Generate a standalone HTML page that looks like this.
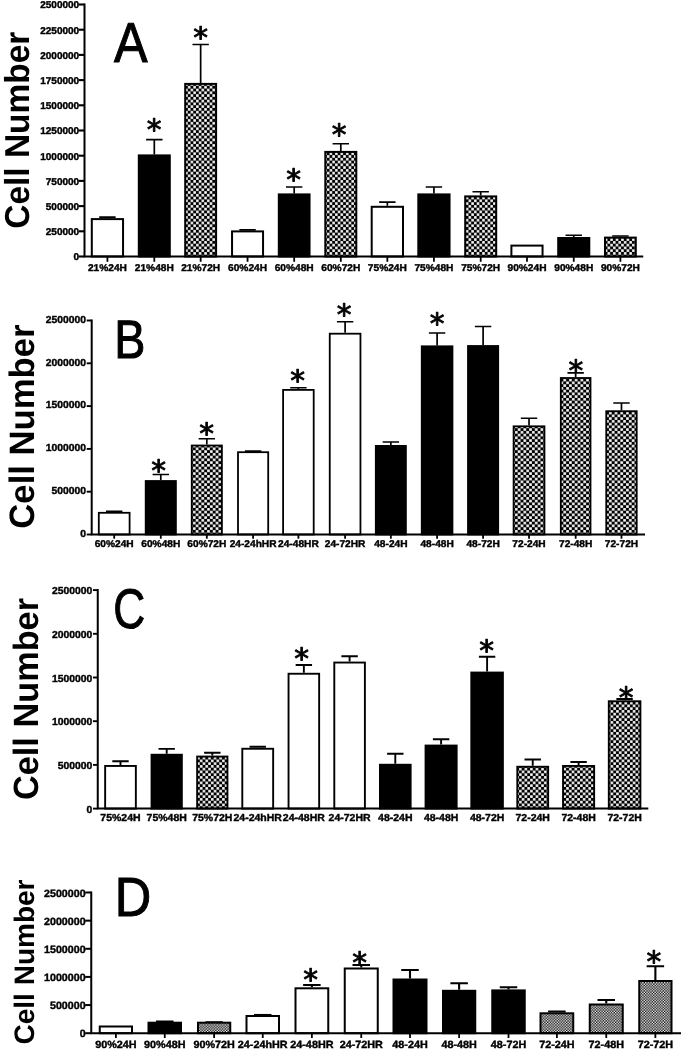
<!DOCTYPE html>
<html lang="en"><head><meta charset="utf-8"><title>Cell Number charts</title>
<style>
html,body{margin:0;padding:0;background:#fff;}
body{width:681px;height:1050px;overflow:hidden;}
svg{display:block;filter:blur(0.45px);}
text{font-family:"Liberation Sans",Arial,Helvetica,sans-serif;fill:#000;text-rendering:geometricPrecision;}
.xl{font-weight:bold;text-anchor:middle;stroke:#000;stroke-width:0.4px;}
.yl{font-weight:bold;font-size:9.9px;text-anchor:end;stroke:#000;stroke-width:0.4px;}
.ttl{font-weight:bold;text-anchor:middle;}
.let{font-weight:normal;stroke:#000;stroke-width:1px;}
.ast{font-family:"DejaVu Sans","Liberation Sans",sans-serif;font-size:29.5px;text-anchor:middle;stroke:#000;stroke-width:0.9px;stroke-linejoin:round;}
</style></head><body>
<svg width="681" height="1050" viewBox="0 0 681 1050">
<defs>
<pattern id="chkA" width="5.45" height="5.54" patternUnits="userSpaceOnUse" x="2.52" y="-2.8"><rect width="5.45" height="5.54" fill="#000"/><rect x="0.11" y="0.11" width="2.51" height="2.55" fill="#fff"/><rect x="2.83" y="2.88" width="2.51" height="2.55" fill="#fff"/></pattern>
<pattern id="chkB" width="5.7" height="5.5" patternUnits="userSpaceOnUse" x="-1" y="-0.8"><rect width="5.7" height="5.5" fill="#000"/><rect x="0.11" y="0.11" width="2.62" height="2.53" fill="#fff"/><rect x="2.96" y="2.86" width="2.62" height="2.53" fill="#fff"/></pattern>
<pattern id="chkC" width="5.55" height="5.5" patternUnits="userSpaceOnUse" x="0" y="0.5"><rect width="5.55" height="5.5" fill="#000"/><rect x="0.11" y="0.11" width="2.55" height="2.53" fill="#fff"/><rect x="2.89" y="2.86" width="2.55" height="2.53" fill="#fff"/></pattern>
<pattern id="chkD" width="2.72" height="2.72" patternUnits="userSpaceOnUse" x="0.3" y="0.2"><rect width="2.72" height="2.72" fill="#000"/><rect x="0" y="0" width="1.36" height="1.36" fill="#fff"/><rect x="1.36" y="1.36" width="1.36" height="1.36" fill="#fff"/></pattern>
</defs>
<rect width="681" height="1050" fill="#fff"/>
<g>
<path d="M107.42 218.1V217.2M99.22 217.2H115.62" stroke="#000" stroke-width="1.7" fill="none"/>
<rect x="91.8" y="219.1" width="31.25" height="37.4" fill="#fff" stroke="#000" stroke-width="2"/>
<text class="xl" style="font-size:9.9px" transform="translate(107.42 271.2) scale(1.03 1)">21%24H</text>
<path d="M107.42 256.5v5.3" stroke="#000" stroke-width="1.8"/>
<path d="M154.3 154.4V139.6M146.1 139.6H162.5" stroke="#000" stroke-width="1.7" fill="none"/>
<rect x="138.8" y="155.4" width="31" height="101.1" fill="#000" stroke="#000" stroke-width="2"/>
<text class="ast" x="154" y="139.84">*</text>
<text class="xl" style="font-size:9.9px" transform="translate(154.3 271.2) scale(1.03 1)">21%48H</text>
<path d="M154.3 256.5v5.3" stroke="#000" stroke-width="1.8"/>
<path d="M200.65 82.9V44.5M192.45 44.5H208.85" stroke="#000" stroke-width="1.7" fill="none"/>
<rect x="185.2" y="83.9" width="30.9" height="172.6" fill="url(#chkA)" stroke="#000" stroke-width="2"/>
<text class="ast" x="200.7" y="47.74">*</text>
<text class="xl" style="font-size:9.9px" transform="translate(200.65 271.2) scale(1.03 1)">21%72H</text>
<path d="M200.65 256.5v5.3" stroke="#000" stroke-width="1.8"/>
<path d="M247.55 230.4V229.8M239.35 229.8H255.75" stroke="#000" stroke-width="1.7" fill="none"/>
<rect x="232.05" y="231.4" width="31" height="25.1" fill="#fff" stroke="#000" stroke-width="2"/>
<text class="xl" style="font-size:9.9px" transform="translate(247.55 271.2) scale(1.03 1)">60%24H</text>
<path d="M247.55 256.5v5.3" stroke="#000" stroke-width="1.8"/>
<path d="M294.18 193.4V187M285.98 187H302.38" stroke="#000" stroke-width="1.7" fill="none"/>
<rect x="278.8" y="194.4" width="30.75" height="62.1" fill="#000" stroke="#000" stroke-width="2"/>
<text class="ast" x="293.5" y="190.44">*</text>
<text class="xl" style="font-size:9.9px" transform="translate(294.18 271.2) scale(1.03 1)">60%48H</text>
<path d="M294.18 256.5v5.3" stroke="#000" stroke-width="1.8"/>
<path d="M340.8 150.9V143.75M332.6 143.75H349" stroke="#000" stroke-width="1.7" fill="none"/>
<rect x="325.3" y="151.9" width="31" height="104.6" fill="url(#chkA)" stroke="#000" stroke-width="2"/>
<text class="ast" x="339.2" y="145.24">*</text>
<text class="xl" style="font-size:9.9px" transform="translate(340.8 271.2) scale(1.03 1)">60%72H</text>
<path d="M340.8 256.5v5.3" stroke="#000" stroke-width="1.8"/>
<path d="M387.35 205.8V202.2M379.15 202.2H395.55" stroke="#000" stroke-width="1.7" fill="none"/>
<rect x="371.7" y="206.8" width="31.3" height="49.7" fill="#fff" stroke="#000" stroke-width="2"/>
<text class="xl" style="font-size:9.9px" transform="translate(387.35 271.2) scale(1.03 1)">75%24H</text>
<path d="M387.35 256.5v5.3" stroke="#000" stroke-width="1.8"/>
<path d="M433.93 193.4V187M425.73 187H442.12" stroke="#000" stroke-width="1.7" fill="none"/>
<rect x="418.3" y="194.4" width="31.25" height="62.1" fill="#000" stroke="#000" stroke-width="2"/>
<text class="xl" style="font-size:9.9px" transform="translate(433.93 271.2) scale(1.03 1)">75%48H</text>
<path d="M433.93 256.5v5.3" stroke="#000" stroke-width="1.8"/>
<path d="M480.7 195.4V191.75M472.5 191.75H488.9" stroke="#000" stroke-width="1.7" fill="none"/>
<rect x="465.2" y="196.4" width="31" height="60.1" fill="url(#chkA)" stroke="#000" stroke-width="2"/>
<text class="xl" style="font-size:9.9px" transform="translate(480.7 271.2) scale(1.03 1)">75%72H</text>
<path d="M480.7 256.5v5.3" stroke="#000" stroke-width="1.8"/>
<rect x="511.4" y="245.6" width="31.15" height="10.9" fill="#fff" stroke="#000" stroke-width="2"/>
<text class="xl" style="font-size:9.9px" transform="translate(526.98 271.2) scale(1.03 1)">90%24H</text>
<path d="M526.98 256.5v5.3" stroke="#000" stroke-width="1.8"/>
<path d="M573.75 237V235.25M565.55 235.25H581.95" stroke="#000" stroke-width="1.7" fill="none"/>
<rect x="558.2" y="238" width="31.1" height="18.5" fill="#000" stroke="#000" stroke-width="2"/>
<text class="xl" style="font-size:9.9px" transform="translate(573.75 271.2) scale(1.03 1)">90%48H</text>
<path d="M573.75 256.5v5.3" stroke="#000" stroke-width="1.8"/>
<path d="M620.4 236.6V236M612.2 236H628.6" stroke="#000" stroke-width="1.7" fill="none"/>
<rect x="605" y="237.6" width="30.8" height="18.9" fill="url(#chkA)" stroke="#000" stroke-width="2"/>
<text class="xl" style="font-size:9.9px" transform="translate(620.4 271.2) scale(1.03 1)">90%72H</text>
<path d="M620.4 256.5v5.3" stroke="#000" stroke-width="1.8"/>
<path d="M84.5 3.5V256.5H643.25" stroke="#000" stroke-width="2" fill="none" stroke-linejoin="miter"/>
<path d="M78.6 256.5H84.5" stroke="#000" stroke-width="2.1"/>
<text class="yl" style="font-size:9.9px" transform="translate(79.2 260.4) scale(1.015 1)">0</text>
<path d="M78.6 231.3H84.5" stroke="#000" stroke-width="2.1"/>
<text class="yl" style="font-size:9.9px" transform="translate(79.2 235.2) scale(1.015 1)">250000</text>
<path d="M78.6 206.1H84.5" stroke="#000" stroke-width="2.1"/>
<text class="yl" style="font-size:9.9px" transform="translate(79.2 210) scale(1.015 1)">500000</text>
<path d="M78.6 180.9H84.5" stroke="#000" stroke-width="2.1"/>
<text class="yl" style="font-size:9.9px" transform="translate(79.2 184.8) scale(1.015 1)">750000</text>
<path d="M78.6 155.7H84.5" stroke="#000" stroke-width="2.1"/>
<text class="yl" style="font-size:9.9px" transform="translate(79.2 159.6) scale(1.015 1)">1000000</text>
<path d="M78.6 130.5H84.5" stroke="#000" stroke-width="2.1"/>
<text class="yl" style="font-size:9.9px" transform="translate(79.2 134.4) scale(1.015 1)">1250000</text>
<path d="M78.6 105.3H84.5" stroke="#000" stroke-width="2.1"/>
<text class="yl" style="font-size:9.9px" transform="translate(79.2 109.2) scale(1.015 1)">1500000</text>
<path d="M78.6 80.1H84.5" stroke="#000" stroke-width="2.1"/>
<text class="yl" style="font-size:9.9px" transform="translate(79.2 84) scale(1.015 1)">1750000</text>
<path d="M78.6 54.9H84.5" stroke="#000" stroke-width="2.1"/>
<text class="yl" style="font-size:9.9px" transform="translate(79.2 58.8) scale(1.015 1)">2000000</text>
<path d="M78.6 29.7H84.5" stroke="#000" stroke-width="2.1"/>
<text class="yl" style="font-size:9.9px" transform="translate(79.2 33.6) scale(1.015 1)">2250000</text>
<path d="M78.6 4.5H84.5" stroke="#000" stroke-width="2.1"/>
<text class="yl" style="font-size:9.9px" transform="translate(79.2 8.4) scale(1.015 1)">2500000</text>
<text class="let" style="font-size:56.3px" transform="translate(113.9 61.9) scale(0.895 1)">A</text>
<text class="ttl" style="font-size:34.6px" transform="translate(28.8 130.2) rotate(-90) scale(0.968 1)">Cell Number</text>
</g>
<g>
<path d="M114.2 511.9V511.25M106 511.25H122.4" stroke="#000" stroke-width="1.7" fill="none"/>
<rect x="98.8" y="512.8" width="30.8" height="21.7" fill="#fff" stroke="#000" stroke-width="1.8"/>
<text class="xl" style="font-size:9.9px" transform="translate(114.2 546.9) scale(1.03 1)">60%24H</text>
<path d="M114.2 534.5v4.2" stroke="#000" stroke-width="1.8"/>
<path d="M160.8 480.1V474.5M152.6 474.5H169" stroke="#000" stroke-width="1.7" fill="none"/>
<rect x="145.7" y="481" width="30.2" height="53.5" fill="#000" stroke="#000" stroke-width="1.8"/>
<text class="ast" x="158.5" y="481.44">*</text>
<text class="xl" style="font-size:9.9px" transform="translate(160.8 546.9) scale(1.03 1)">60%48H</text>
<path d="M160.8 534.5v4.2" stroke="#000" stroke-width="1.8"/>
<path d="M206.82 444.6V438.75M198.62 438.75H215.02" stroke="#000" stroke-width="1.7" fill="none"/>
<rect x="191.75" y="445.5" width="30.15" height="89" fill="url(#chkB)" stroke="#000" stroke-width="1.8"/>
<text class="ast" x="206.5" y="444.24">*</text>
<text class="xl" style="font-size:9.9px" transform="translate(206.82 546.9) scale(1.03 1)">60%72H</text>
<path d="M206.82 534.5v4.2" stroke="#000" stroke-width="1.8"/>
<path d="M253.1 451.3V451.2M244.9 451.2H261.3" stroke="#000" stroke-width="1.7" fill="none"/>
<rect x="238" y="452.2" width="30.2" height="82.3" fill="#fff" stroke="#000" stroke-width="1.8"/>
<text class="xl" style="font-size:9.9px" transform="translate(253.1 546.9) scale(1.03 1)">24-24hHR</text>
<path d="M253.1 534.5v4.2" stroke="#000" stroke-width="1.8"/>
<path d="M298.4 389V387.75M290.2 387.75H306.6" stroke="#000" stroke-width="1.7" fill="none"/>
<rect x="283.1" y="389.9" width="30.6" height="144.6" fill="#fff" stroke="#000" stroke-width="1.8"/>
<text class="ast" x="297.6" y="391.34">*</text>
<text class="xl" style="font-size:9.9px" transform="translate(298.4 546.9) scale(1.03 1)">24-48HR</text>
<path d="M298.4 534.5v4.2" stroke="#000" stroke-width="1.8"/>
<path d="M345.1 332.8V321.75M336.9 321.75H353.3" stroke="#000" stroke-width="1.7" fill="none"/>
<rect x="329.75" y="333.7" width="30.7" height="200.8" fill="#fff" stroke="#000" stroke-width="1.8"/>
<text class="ast" x="344.1" y="325.44">*</text>
<text class="xl" style="font-size:9.9px" transform="translate(345.1 546.9) scale(1.03 1)">24-72HR</text>
<path d="M345.1 534.5v4.2" stroke="#000" stroke-width="1.8"/>
<path d="M390.85 445V442M382.65 442H399.05" stroke="#000" stroke-width="1.7" fill="none"/>
<rect x="375.8" y="445.9" width="30.1" height="88.6" fill="#000" stroke="#000" stroke-width="1.8"/>
<text class="xl" style="font-size:9.9px" transform="translate(390.85 546.9) scale(1.03 1)">48-24H</text>
<path d="M390.85 534.5v4.2" stroke="#000" stroke-width="1.8"/>
<path d="M437.1 345.4V333M428.9 333H445.3" stroke="#000" stroke-width="1.7" fill="none"/>
<rect x="421.75" y="346.3" width="30.7" height="188.2" fill="#000" stroke="#000" stroke-width="1.8"/>
<text class="ast" x="437" y="333.94">*</text>
<text class="xl" style="font-size:9.9px" transform="translate(437.1 546.9) scale(1.03 1)">48-48H</text>
<path d="M437.1 534.5v4.2" stroke="#000" stroke-width="1.8"/>
<path d="M483.1 345.1V326.5M474.9 326.5H491.3" stroke="#000" stroke-width="1.7" fill="none"/>
<rect x="468" y="346" width="30.2" height="188.5" fill="#000" stroke="#000" stroke-width="1.8"/>
<text class="xl" style="font-size:9.9px" transform="translate(483.1 546.9) scale(1.03 1)">48-72H</text>
<path d="M483.1 534.5v4.2" stroke="#000" stroke-width="1.8"/>
<path d="M529.03 425.4V418.25M520.83 418.25H537.23" stroke="#000" stroke-width="1.7" fill="none"/>
<rect x="513.6" y="426.3" width="30.85" height="108.2" fill="url(#chkB)" stroke="#000" stroke-width="1.8"/>
<text class="xl" style="font-size:9.9px" transform="translate(529.03 546.9) scale(1.03 1)">72-24H</text>
<path d="M529.03 534.5v4.2" stroke="#000" stroke-width="1.8"/>
<path d="M575.65 377.1V372.85M567.45 372.85H583.85" stroke="#000" stroke-width="1.7" fill="none"/>
<rect x="560.8" y="378" width="29.7" height="156.5" fill="url(#chkB)" stroke="#000" stroke-width="1.8"/>
<text class="ast" x="575.8" y="381.44">*</text>
<text class="xl" style="font-size:9.9px" transform="translate(575.65 546.9) scale(1.03 1)">72-48H</text>
<path d="M575.65 534.5v4.2" stroke="#000" stroke-width="1.8"/>
<path d="M621.48 410.3V403M613.27 403H629.68" stroke="#000" stroke-width="1.7" fill="none"/>
<rect x="606.25" y="411.2" width="30.45" height="123.3" fill="url(#chkB)" stroke="#000" stroke-width="1.8"/>
<text class="xl" style="font-size:9.9px" transform="translate(621.48 546.9) scale(1.03 1)">72-72H</text>
<path d="M621.48 534.5v4.2" stroke="#000" stroke-width="1.8"/>
<path d="M91.7 319.5V534.5H645" stroke="#000" stroke-width="2" fill="none" stroke-linejoin="miter"/>
<path d="M86.7 534.5H91.7" stroke="#000" stroke-width="1.9"/>
<text class="yl" style="font-size:10.2px" transform="translate(85.9 536.8) scale(1.015 1)">0</text>
<path d="M86.7 491.7H91.7" stroke="#000" stroke-width="1.9"/>
<text class="yl" style="font-size:10.2px" transform="translate(85.9 494) scale(1.015 1)">500000</text>
<path d="M86.7 448.9H91.7" stroke="#000" stroke-width="1.9"/>
<text class="yl" style="font-size:10.2px" transform="translate(85.9 451.2) scale(1.015 1)">1000000</text>
<path d="M86.7 406.1H91.7" stroke="#000" stroke-width="1.9"/>
<text class="yl" style="font-size:10.2px" transform="translate(85.9 408.4) scale(1.015 1)">1500000</text>
<path d="M86.7 363.3H91.7" stroke="#000" stroke-width="1.9"/>
<text class="yl" style="font-size:10.2px" transform="translate(85.9 365.6) scale(1.015 1)">2000000</text>
<path d="M86.7 320.5H91.7" stroke="#000" stroke-width="1.9"/>
<text class="yl" style="font-size:10.2px" transform="translate(85.9 322.8) scale(1.015 1)">2500000</text>
<text class="let" style="font-size:54.1px" transform="translate(114.3 358.3) scale(0.863 1)">B</text>
<text class="ttl" style="font-size:35.3px" transform="translate(34.2 426.6) rotate(-90) scale(0.982 1)">Cell Number</text>
</g>
<g>
<path d="M120.5 765V761.25M112.3 761.25H128.7" stroke="#000" stroke-width="1.9" fill="none"/>
<rect x="105.15" y="765.95" width="30.7" height="42.65" fill="#fff" stroke="#000" stroke-width="1.9"/>
<text class="xl" style="font-size:10.2px" transform="translate(120.5 820.7) scale(1.03 1)">75%24H</text>
<path d="M166.7 753.8V748.9M158.5 748.9H174.9" stroke="#000" stroke-width="1.9" fill="none"/>
<rect x="151.55" y="754.75" width="30.3" height="53.85" fill="#000" stroke="#000" stroke-width="1.9"/>
<text class="xl" style="font-size:10.2px" transform="translate(166.7 820.7) scale(1.03 1)">75%48H</text>
<path d="M212.3 755.6V752.7M204.1 752.7H220.5" stroke="#000" stroke-width="1.9" fill="none"/>
<rect x="197.15" y="756.55" width="30.3" height="52.05" fill="url(#chkC)" stroke="#000" stroke-width="1.9"/>
<text class="xl" style="font-size:10.2px" transform="translate(212.3 820.7) scale(1.03 1)">75%72H</text>
<path d="M257.73 747.8V746.75M249.53 746.75H265.93" stroke="#000" stroke-width="1.9" fill="none"/>
<rect x="242.3" y="748.75" width="30.85" height="59.85" fill="#fff" stroke="#000" stroke-width="1.9"/>
<text class="xl" style="font-size:10.2px" transform="translate(257.73 820.7) scale(1.03 1)">24-24hHR</text>
<path d="M303.85 672.8V665M295.65 665H312.05" stroke="#000" stroke-width="1.9" fill="none"/>
<rect x="288.55" y="673.75" width="30.6" height="134.85" fill="#fff" stroke="#000" stroke-width="1.9"/>
<text class="ast" x="301.6" y="668.74">*</text>
<text class="xl" style="font-size:10.2px" transform="translate(303.85 820.7) scale(1.03 1)">24-48HR</text>
<path d="M349.6 661.6V656.25M341.4 656.25H357.8" stroke="#000" stroke-width="1.9" fill="none"/>
<rect x="334.3" y="662.55" width="30.6" height="146.05" fill="#fff" stroke="#000" stroke-width="1.9"/>
<text class="xl" style="font-size:10.2px" transform="translate(349.6 820.7) scale(1.03 1)">24-72HR</text>
<path d="M395.3 763.8V753.75M387.1 753.75H403.5" stroke="#000" stroke-width="1.9" fill="none"/>
<rect x="379.95" y="764.75" width="30.7" height="43.85" fill="#000" stroke="#000" stroke-width="1.9"/>
<text class="xl" style="font-size:10.2px" transform="translate(395.3 820.7) scale(1.03 1)">48-24H</text>
<path d="M441.1 744.6V739.25M432.9 739.25H449.3" stroke="#000" stroke-width="1.9" fill="none"/>
<rect x="425.55" y="745.55" width="31.1" height="63.05" fill="#000" stroke="#000" stroke-width="1.9"/>
<text class="xl" style="font-size:10.2px" transform="translate(441.1 820.7) scale(1.03 1)">48-48H</text>
<path d="M487.1 671.6V656.75M478.9 656.75H495.3" stroke="#000" stroke-width="1.9" fill="none"/>
<rect x="471.3" y="672.55" width="31.6" height="136.05" fill="#000" stroke="#000" stroke-width="1.9"/>
<text class="ast" x="486.6" y="661.44">*</text>
<text class="xl" style="font-size:10.2px" transform="translate(487.1 820.7) scale(1.03 1)">48-72H</text>
<path d="M532.73 765.8V759.5M524.52 759.5H540.93" stroke="#000" stroke-width="1.9" fill="none"/>
<rect x="517.3" y="766.75" width="30.85" height="41.85" fill="url(#chkC)" stroke="#000" stroke-width="1.9"/>
<text class="xl" style="font-size:10.2px" transform="translate(532.73 820.7) scale(1.03 1)">72-24H</text>
<path d="M578.6 765V762M570.4 762H586.8" stroke="#000" stroke-width="1.9" fill="none"/>
<rect x="563.05" y="765.95" width="31.1" height="42.65" fill="url(#chkC)" stroke="#000" stroke-width="1.9"/>
<text class="xl" style="font-size:10.2px" transform="translate(578.6 820.7) scale(1.03 1)">72-48H</text>
<path d="M624.6 700.3V699M616.4 699H632.8" stroke="#000" stroke-width="1.9" fill="none"/>
<rect x="608.8" y="701.25" width="31.6" height="107.35" fill="url(#chkC)" stroke="#000" stroke-width="1.9"/>
<text class="ast" x="626.1" y="707.94">*</text>
<text class="xl" style="font-size:10.2px" transform="translate(624.6 820.7) scale(1.03 1)">72-72H</text>
<path d="M97.75 589.1V808.6H648.3" stroke="#000" stroke-width="2" fill="none" stroke-linejoin="miter"/>
<path d="M92.95 808.6H97.75" stroke="#000" stroke-width="1.9"/>
<text class="yl" style="font-size:10.2px" transform="translate(92.15 812.7) scale(1.015 1)">0</text>
<path d="M92.95 764.9H97.75" stroke="#000" stroke-width="1.9"/>
<text class="yl" style="font-size:10.2px" transform="translate(92.15 769) scale(1.015 1)">500000</text>
<path d="M92.95 721.2H97.75" stroke="#000" stroke-width="1.9"/>
<text class="yl" style="font-size:10.2px" transform="translate(92.15 725.3) scale(1.015 1)">1000000</text>
<path d="M92.95 677.5H97.75" stroke="#000" stroke-width="1.9"/>
<text class="yl" style="font-size:10.2px" transform="translate(92.15 681.6) scale(1.015 1)">1500000</text>
<path d="M92.95 633.8H97.75" stroke="#000" stroke-width="1.9"/>
<text class="yl" style="font-size:10.2px" transform="translate(92.15 637.9) scale(1.015 1)">2000000</text>
<path d="M92.95 590.1H97.75" stroke="#000" stroke-width="1.9"/>
<text class="yl" style="font-size:10.2px" transform="translate(92.15 594.2) scale(1.015 1)">2500000</text>
<text class="let" style="font-size:56px" transform="translate(113.3 628.4) scale(0.79 1)">C</text>
<text class="ttl" style="font-size:35.1px" transform="translate(38.4 699) rotate(-90) scale(0.978 1)">Cell Number</text>
</g>
<g>
<rect x="99.75" y="1026.5" width="32.25" height="6.7" fill="#fff" stroke="#000" stroke-width="2"/>
<text class="xl" style="font-size:10.49px" transform="translate(115.88 1047.7) scale(1.03 1)">90%24H</text>
<path d="M115.88 1033.2v4.8" stroke="#000" stroke-width="1.8"/>
<path d="M164.75 1021.7V1021.5M156 1021.5H173.5" stroke="#000" stroke-width="2.1" fill="none"/>
<rect x="148.5" y="1022.7" width="32.5" height="10.5" fill="#000" stroke="#000" stroke-width="2"/>
<text class="xl" style="font-size:10.49px" transform="translate(164.75 1047.7) scale(1.03 1)">90%48H</text>
<path d="M164.75 1033.2v4.8" stroke="#000" stroke-width="1.8"/>
<path d="M214.12 1021.7V1022.4M205.38 1022.4H222.88" stroke="#000" stroke-width="2.1" fill="none"/>
<rect x="198" y="1022.7" width="32.25" height="10.5" fill="url(#chkD)" stroke="#000" stroke-width="2"/>
<text class="xl" style="font-size:10.49px" transform="translate(214.12 1047.7) scale(1.03 1)">90%72H</text>
<path d="M214.12 1033.2v4.8" stroke="#000" stroke-width="1.8"/>
<path d="M262.75 1015V1015M254 1015H271.5" stroke="#000" stroke-width="2.1" fill="none"/>
<rect x="246.5" y="1016" width="32.5" height="17.2" fill="#fff" stroke="#000" stroke-width="2"/>
<text class="xl" style="font-size:10.49px" transform="translate(262.75 1047.7) scale(1.03 1)">24-24hHR</text>
<path d="M262.75 1033.2v4.8" stroke="#000" stroke-width="1.8"/>
<path d="M311.88 987.3V985M303.12 985H320.62" stroke="#000" stroke-width="2.1" fill="none"/>
<rect x="295.5" y="988.3" width="32.75" height="44.9" fill="#fff" stroke="#000" stroke-width="2"/>
<text class="ast" x="310.6" y="990.24">*</text>
<text class="xl" style="font-size:10.49px" transform="translate(311.88 1047.7) scale(1.03 1)">24-48HR</text>
<path d="M311.88 1033.2v4.8" stroke="#000" stroke-width="1.8"/>
<path d="M361.25 967.5V965M352.5 965H370" stroke="#000" stroke-width="2.1" fill="none"/>
<rect x="344.75" y="968.5" width="33" height="64.7" fill="#fff" stroke="#000" stroke-width="2"/>
<text class="ast" x="359.5" y="972.74">*</text>
<text class="xl" style="font-size:10.49px" transform="translate(361.25 1047.7) scale(1.03 1)">24-72HR</text>
<path d="M361.25 1033.2v4.8" stroke="#000" stroke-width="1.8"/>
<path d="M410 978.5V970M401.25 970H418.75" stroke="#000" stroke-width="2.1" fill="none"/>
<rect x="393.5" y="979.5" width="33" height="53.7" fill="#000" stroke="#000" stroke-width="2"/>
<text class="xl" style="font-size:10.49px" transform="translate(410 1047.7) scale(1.03 1)">48-24H</text>
<path d="M410 1033.2v4.8" stroke="#000" stroke-width="1.8"/>
<path d="M459.12 989.8V983.25M450.38 983.25H467.88" stroke="#000" stroke-width="2.1" fill="none"/>
<rect x="443" y="990.8" width="32.25" height="42.4" fill="#000" stroke="#000" stroke-width="2"/>
<text class="xl" style="font-size:10.49px" transform="translate(459.12 1047.7) scale(1.03 1)">48-48H</text>
<path d="M459.12 1033.2v4.8" stroke="#000" stroke-width="1.8"/>
<path d="M508.5 989.4V987.25M499.75 987.25H517.25" stroke="#000" stroke-width="2.1" fill="none"/>
<rect x="492.25" y="990.4" width="32.5" height="42.8" fill="#000" stroke="#000" stroke-width="2"/>
<text class="xl" style="font-size:10.49px" transform="translate(508.5 1047.7) scale(1.03 1)">48-72H</text>
<path d="M508.5 1033.2v4.8" stroke="#000" stroke-width="1.8"/>
<path d="M556.88 1012.3V1011.5M548.12 1011.5H565.62" stroke="#000" stroke-width="2.1" fill="none"/>
<rect x="540.5" y="1013.3" width="32.75" height="19.9" fill="url(#chkD)" stroke="#000" stroke-width="2"/>
<text class="xl" style="font-size:10.49px" transform="translate(556.88 1047.7) scale(1.03 1)">72-24H</text>
<path d="M556.88 1033.2v4.8" stroke="#000" stroke-width="1.8"/>
<path d="M606.25 1003.5V1000M597.5 1000H615" stroke="#000" stroke-width="2.1" fill="none"/>
<rect x="589.75" y="1004.5" width="33" height="28.7" fill="url(#chkD)" stroke="#000" stroke-width="2"/>
<text class="xl" style="font-size:10.49px" transform="translate(606.25 1047.7) scale(1.03 1)">72-48H</text>
<path d="M606.25 1033.2v4.8" stroke="#000" stroke-width="1.8"/>
<path d="M655.38 980V966.25M646.62 966.25H664.12" stroke="#000" stroke-width="2.1" fill="none"/>
<rect x="639.25" y="981" width="32.25" height="52.2" fill="url(#chkD)" stroke="#000" stroke-width="2"/>
<text class="ast" x="653.9" y="972.34">*</text>
<text class="xl" style="font-size:10.49px" transform="translate(655.38 1047.7) scale(1.03 1)">72-72H</text>
<path d="M655.38 1033.2v4.8" stroke="#000" stroke-width="1.8"/>
<path d="M91.25 891.5V1033.2H681" stroke="#000" stroke-width="2" fill="none" stroke-linejoin="miter"/>
<path d="M85.25 1033.2H91.25" stroke="#000" stroke-width="2.0"/>
<text class="yl" style="font-size:10.54px" transform="translate(85.65 1037.3) scale(1.015 1)">0</text>
<path d="M85.25 1005.06H91.25" stroke="#000" stroke-width="2.0"/>
<text class="yl" style="font-size:10.54px" transform="translate(85.65 1009.16) scale(1.015 1)">500000</text>
<path d="M85.25 976.92H91.25" stroke="#000" stroke-width="2.0"/>
<text class="yl" style="font-size:10.54px" transform="translate(85.65 981.02) scale(1.015 1)">1000000</text>
<path d="M85.25 948.78H91.25" stroke="#000" stroke-width="2.0"/>
<text class="yl" style="font-size:10.54px" transform="translate(85.65 952.88) scale(1.015 1)">1500000</text>
<path d="M85.25 920.64H91.25" stroke="#000" stroke-width="2.0"/>
<text class="yl" style="font-size:10.54px" transform="translate(85.65 924.74) scale(1.015 1)">2000000</text>
<path d="M85.25 892.5H91.25" stroke="#000" stroke-width="2.0"/>
<text class="yl" style="font-size:10.54px" transform="translate(85.65 896.6) scale(1.015 1)">2500000</text>
<text class="let" style="font-size:55.2px" transform="translate(114.7 915.7) scale(0.915 1)">D</text>
<text class="ttl" style="font-size:28.2px" transform="translate(34.1 962) rotate(-90) scale(0.994 1)">Cell Number</text>
</g>
</svg>
</body></html>
